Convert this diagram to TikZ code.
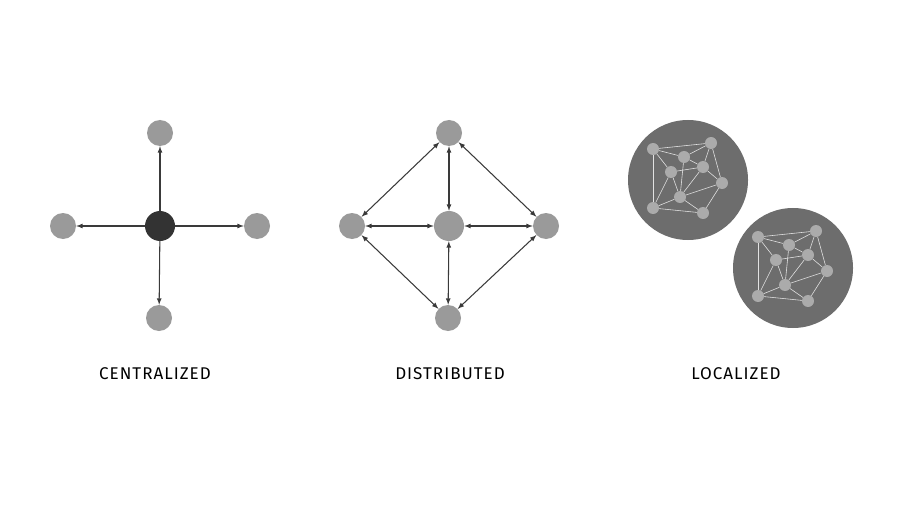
\documentclass[tikz,border=0pt]{standalone}
\usepackage{fontspec}
\setmainfont{Fira Sans}[LetterSpace=6]
\usetikzlibrary{arrows}
\usetikzlibrary{positioning}

\definecolor{peergray}{HTML}{9A9A9A}
\definecolor{hubgray}{HTML}{333333}
\definecolor{linkgray}{HTML}{3A3A3A}
\definecolor{blobgray}{HTML}{6D6D6D}
\definecolor{dotgray}{HTML}{ABABAB}
\definecolor{webgray}{HTML}{E2E2E2}

\begin{document}
\begin{tikzpicture}[x=0.03cm,y=-0.03cm,
  peer/.style={circle,fill=peergray,inner sep=0pt,minimum size=0.78cm},
  hub/.style={circle,fill=hubgray,inner sep=0pt,minimum size=0.9cm},
  midpeer/.style={circle,fill=peergray,inner sep=0pt,minimum size=0.9cm},
  link/.style={linkgray,line width=0.9pt,-latex},
  dlink/.style={linkgray,line width=0.9pt,latex-latex},
  blob/.style={circle,fill=blobgray,inner sep=0pt,minimum size=3.6cm},
  dot/.style={circle,fill=dotgray,inner sep=0pt,minimum size=0.36cm},
  web/.style={webgray,line width=0.5pt},
  caption/.style={font=\fontsize{14.5}{16}\selectfont}]
  \useasboundingbox (0,0) rectangle (904,509);

  % Centralized
  \node[hub]  (c0) at (160,226) {};
  \node[peer] (cT) at (160,133) {};
  \node[peer] (cL) at (63,226) {};
  \node[peer] (cR) at (257,226) {};
  \node[peer] (cB) at (159,318) {};
  \foreach \p in {cT,cL,cR,cB}
    \draw[link] (c0) -- (\p);

  % Distributed
  \node[midpeer] (d0) at (449,226) {};
  \node[peer] (dT) at (449,133) {};
  \node[peer] (dL) at (352,226) {};
  \node[peer] (dR) at (546,226) {};
  \node[peer] (dB) at (448,318) {};
  \foreach \a/\b in {d0/dT,d0/dL,d0/dR,d0/dB,dT/dL,dT/dR,dB/dL,dB/dR}
    \draw[dlink] (\a) -- (\b);

  % Localized
  \foreach \k/\dx/\dy in {p/0/0,q/105/88} {
    \begin{scope}[shift={(\dx,\dy)}]
      \node[blob] (\k-o) at (688,180) {};
      \node[dot] (\k-a) at (653,149) {};
      \node[dot] (\k-b) at (711,143) {};
      \node[dot] (\k-c) at (684,157) {};
      \node[dot] (\k-d) at (671,172) {};
      \node[dot] (\k-e) at (703,167) {};
      \node[dot] (\k-f) at (722,183) {};
      \node[dot] (\k-g) at (680,197) {};
      \node[dot] (\k-h) at (653,208) {};
      \node[dot] (\k-i) at (703,213) {};
      \foreach \a/\b in {a/b,a/c,a/d,a/h,b/c,b/e,b/f,c/e,c/g,d/e,d/g,d/h,e/g,e/f,f/g,f/i,g/h,g/i,h/i}
        \draw[web] (\k-\a) -- (\k-\b);
    \end{scope}
  }

  % Captions
  \node[caption] (t1) at (155,374) {CENTRALIZED};
  \node[caption] (t2) at (450,374) {DISTRIBUTED};
  \node[caption] (t3) at (736,374) {LOCALIZED};
\end{tikzpicture}
\end{document}
